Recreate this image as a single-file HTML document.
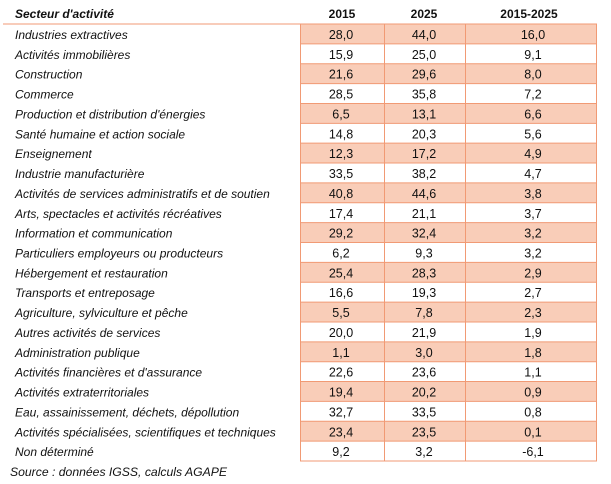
<!DOCTYPE html>
<html>
<head>
<meta charset="utf-8">
<style>
html,body{margin:0;padding:0;background:#fff;}
svg{display:block;}
text{font-family:"Liberation Sans",Arial,sans-serif;font-size:12px;fill:#111;}
.l{font-style:italic;}
.n{text-anchor:middle;font-size:12.5px;}
.h{font-weight:bold;font-size:12px;}
</style>
</head>
<body>
<svg width="611" height="484" viewBox="0 0 611 484" xmlns="http://www.w3.org/2000/svg">
<g fill="#f9cdb8">
<rect x="300" y="24" width="297" height="19.86"/>
<rect x="300" y="63.73" width="297" height="19.86"/>
<rect x="300" y="103.45" width="297" height="19.86"/>
<rect x="300" y="143.18" width="297" height="19.86"/>
<rect x="300" y="182.91" width="297" height="19.86"/>
<rect x="300" y="222.64" width="297" height="19.86"/>
<rect x="300" y="262.37" width="297" height="19.86"/>
<rect x="300" y="302.1" width="297" height="19.86"/>
<rect x="300" y="341.82" width="297" height="19.86"/>
<rect x="300" y="381.55" width="297" height="19.86"/>
<rect x="300" y="421.28" width="297" height="19.86"/>
</g>
<g stroke="#f19a74" stroke-width="1" fill="none">
<line x1="3" y1="24" x2="597" y2="24"/>
<line x1="300" y1="43.86" x2="597" y2="43.86"/>
<line x1="300" y1="63.73" x2="597" y2="63.73"/>
<line x1="300" y1="83.59" x2="597" y2="83.59"/>
<line x1="300" y1="103.45" x2="597" y2="103.45"/>
<line x1="300" y1="123.32" x2="597" y2="123.32"/>
<line x1="300" y1="143.18" x2="597" y2="143.18"/>
<line x1="300" y1="163.05" x2="597" y2="163.05"/>
<line x1="300" y1="182.91" x2="597" y2="182.91"/>
<line x1="300" y1="202.77" x2="597" y2="202.77"/>
<line x1="300" y1="222.64" x2="597" y2="222.64"/>
<line x1="300" y1="242.5" x2="597" y2="242.5"/>
<line x1="300" y1="262.37" x2="597" y2="262.37"/>
<line x1="300" y1="282.23" x2="597" y2="282.23"/>
<line x1="300" y1="302.1" x2="597" y2="302.1"/>
<line x1="300" y1="321.96" x2="597" y2="321.96"/>
<line x1="300" y1="341.82" x2="597" y2="341.82"/>
<line x1="300" y1="361.69" x2="597" y2="361.69"/>
<line x1="300" y1="381.55" x2="597" y2="381.55"/>
<line x1="300" y1="401.42" x2="597" y2="401.42"/>
<line x1="300" y1="421.28" x2="597" y2="421.28"/>
<line x1="300" y1="441.14" x2="597" y2="441.14"/>
<line x1="300" y1="461" x2="597" y2="461"/>
<line x1="300.5" y1="24" x2="300.5" y2="461"/>
<line x1="384.5" y1="24" x2="384.5" y2="461"/>
<line x1="465.5" y1="24" x2="465.5" y2="461"/>
<line x1="596.5" y1="24" x2="596.5" y2="461"/>
</g>

<text class="h l" x="15" y="18">Secteur d'activité</text>
<text class="h n" x="342" y="18" style="font-size:12px">2015</text>
<text class="h n" x="424" y="18" style="font-size:12px">2025</text>
<text class="h n" x="529" y="18" style="font-size:12px">2015-2025</text>

<g>
<text class="l" x="15" y="39">Industries extractives</text>
<text class="n" x="341" y="39">28,0</text><text class="n" x="424" y="39">44,0</text><text class="n" x="533" y="39">16,0</text>

<text class="l" x="15" y="58.86">Activités immobilières</text>
<text class="n" x="341" y="58.86">15,9</text><text class="n" x="424" y="58.86">25,0</text><text class="n" x="533" y="58.86">9,1</text>

<text class="l" x="15" y="78.73">Construction</text>
<text class="n" x="341" y="78.73">21,6</text><text class="n" x="424" y="78.73">29,6</text><text class="n" x="533" y="78.73">8,0</text>

<text class="l" x="15" y="98.59">Commerce</text>
<text class="n" x="341" y="98.59">28,5</text><text class="n" x="424" y="98.59">35,8</text><text class="n" x="533" y="98.59">7,2</text>

<text class="l" x="15" y="118.45">Production et distribution d'énergies</text>
<text class="n" x="341" y="118.45">6,5</text><text class="n" x="424" y="118.45">13,1</text><text class="n" x="533" y="118.45">6,6</text>

<text class="l" x="15" y="138.32">Santé humaine et action sociale</text>
<text class="n" x="341" y="138.32">14,8</text><text class="n" x="424" y="138.32">20,3</text><text class="n" x="533" y="138.32">5,6</text>

<text class="l" x="15" y="158.18">Enseignement</text>
<text class="n" x="341" y="158.18">12,3</text><text class="n" x="424" y="158.18">17,2</text><text class="n" x="533" y="158.18">4,9</text>

<text class="l" x="15" y="178.05">Industrie manufacturière</text>
<text class="n" x="341" y="178.05">33,5</text><text class="n" x="424" y="178.05">38,2</text><text class="n" x="533" y="178.05">4,7</text>

<text class="l" x="15" y="197.91">Activités de services administratifs et de soutien</text>
<text class="n" x="341" y="197.91">40,8</text><text class="n" x="424" y="197.91">44,6</text><text class="n" x="533" y="197.91">3,8</text>

<text class="l" x="15" y="217.77">Arts, spectacles et activités récréatives</text>
<text class="n" x="341" y="217.77">17,4</text><text class="n" x="424" y="217.77">21,1</text><text class="n" x="533" y="217.77">3,7</text>

<text class="l" x="15" y="237.64">Information et communication</text>
<text class="n" x="341" y="237.64">29,2</text><text class="n" x="424" y="237.64">32,4</text><text class="n" x="533" y="237.64">3,2</text>

<text class="l" x="15" y="257.5">Particuliers employeurs ou producteurs</text>
<text class="n" x="341" y="257.5">6,2</text><text class="n" x="424" y="257.5">9,3</text><text class="n" x="533" y="257.5">3,2</text>

<text class="l" x="15" y="277.37">Hébergement et restauration</text>
<text class="n" x="341" y="277.37">25,4</text><text class="n" x="424" y="277.37">28,3</text><text class="n" x="533" y="277.37">2,9</text>

<text class="l" x="15" y="297.23">Transports et entreposage</text>
<text class="n" x="341" y="297.23">16,6</text><text class="n" x="424" y="297.23">19,3</text><text class="n" x="533" y="297.23">2,7</text>

<text class="l" x="15" y="317.1">Agriculture, sylviculture et pêche</text>
<text class="n" x="341" y="317.1">5,5</text><text class="n" x="424" y="317.1">7,8</text><text class="n" x="533" y="317.1">2,3</text>

<text class="l" x="15" y="336.96">Autres activités de services</text>
<text class="n" x="341" y="336.96">20,0</text><text class="n" x="424" y="336.96">21,9</text><text class="n" x="533" y="336.96">1,9</text>

<text class="l" x="15" y="356.82">Administration publique</text>
<text class="n" x="341" y="356.82">1,1</text><text class="n" x="424" y="356.82">3,0</text><text class="n" x="533" y="356.82">1,8</text>

<text class="l" x="15" y="376.69">Activités financières et d'assurance</text>
<text class="n" x="341" y="376.69">22,6</text><text class="n" x="424" y="376.69">23,6</text><text class="n" x="533" y="376.69">1,1</text>

<text class="l" x="15" y="396.55">Activités extraterritoriales</text>
<text class="n" x="341" y="396.55">19,4</text><text class="n" x="424" y="396.55">20,2</text><text class="n" x="533" y="396.55">0,9</text>

<text class="l" x="15" y="416.42">Eau, assainissement, déchets, dépollution</text>
<text class="n" x="341" y="416.42">32,7</text><text class="n" x="424" y="416.42">33,5</text><text class="n" x="533" y="416.42">0,8</text>

<text class="l" x="15" y="436.28">Activités spécialisées, scientifiques et techniques</text>
<text class="n" x="341" y="436.28">23,4</text><text class="n" x="424" y="436.28">23,5</text><text class="n" x="533" y="436.28">0,1</text>

<text class="l" x="15" y="456.14">Non déterminé</text>
<text class="n" x="341" y="456.14">9,2</text><text class="n" x="424" y="456.14">3,2</text><text class="n" x="533" y="456.14">-6,1</text>
</g>

<text class="l" x="10" y="476" style="font-size:12.2px">Source : données IGSS, calculs AGAPE</text>
</svg>
</body>
</html>
